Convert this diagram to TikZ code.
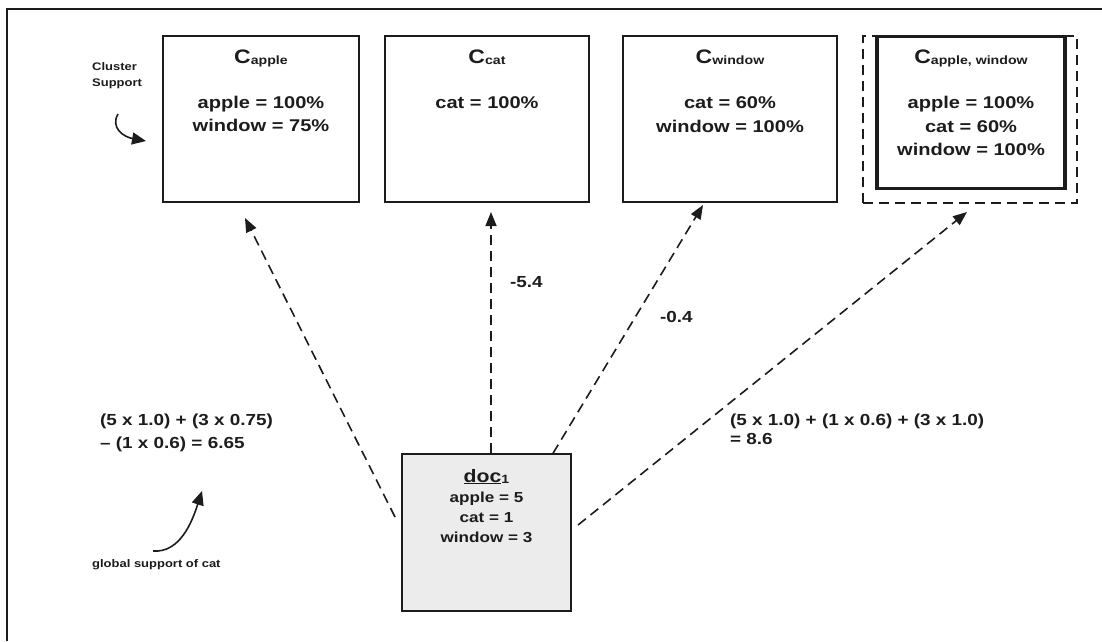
\documentclass[tikz,border=0pt]{standalone}
\usepackage{fontspec}
\setmainfont{Liberation Sans}[FakeStretch=1.18]
\usetikzlibrary{arrows.meta}
\definecolor{ink}{RGB}{28,28,28}
\definecolor{docfill}{RGB}{236,236,236}
% subscript of a cluster name
\newcommand\clsub[1]{\raisebox{-1.5pt}{\fontsize{12}{12}\selectfont #1}}
\tikzset{
  cbox/.style={draw=ink, line width=1.4pt, inner sep=0pt},
  bigbox/.style={draw=ink, line width=3.6pt, inner sep=0pt},
  dashbox/.style={draw=ink, line width=1.4pt, dash pattern=on 10pt off 6pt, inner sep=0pt},
  docbox/.style={draw=ink, line width=1.4pt, fill=docfill, inner sep=0pt},
  ttl/.style={anchor=base, inner sep=0pt, text=ink, font=\fontsize{19.5}{19.5}\selectfont\bfseries},
  body/.style={anchor=base, inner sep=0pt, text=ink, font=\fontsize{17}{17}\selectfont\bfseries},
  dbody/.style={anchor=base, inner sep=0pt, text=ink, font=\fontsize{14.5}{14.5}\selectfont\bfseries},
  lab/.style={anchor=base west, inner sep=0pt, text=ink, font=\fontsize{16}{16}\selectfont\bfseries},
  note/.style={anchor=base west, inner sep=0pt, text=ink, font=\fontsize{11}{11}\selectfont\bfseries},
  conn/.style={draw=ink, line width=1.6pt, dash pattern=on 10pt off 6pt, -{Triangle[length=14pt,width=11pt]}},
  curv/.style={draw=ink, line width=1.6pt, -{Triangle[length=14pt,width=12pt]}},
}
\begin{document}
\begin{tikzpicture}[x=1pt,y=-1pt]
\useasboundingbox (0,0) rectangle (1102,641);
% outer frame (top and left edges)
\draw[draw=ink, line width=1.6pt] (7,641) -- (7,9) -- (1102,9);

% cluster boxes
\node[cbox, minimum width=196pt, minimum height=166pt] (capple) at (261,119) {};
\node[cbox, minimum width=204pt, minimum height=166pt] (ccat) at (487,119) {};
\node[cbox, minimum width=214pt, minimum height=166pt] (cwin) at (730,119) {};
\node[dashbox, minimum width=214pt, minimum height=167pt] (cawout) at (970,119.5) {};
\node[bigbox, minimum width=188pt, minimum height=152pt] (caw) at (971,112.5) {};

\node[ttl] (tapple) at (261,63) {C\clsub{apple}};
\node[body] (apple1) at (261,108) {apple = 100\%};
\node[body] (apple2) at (261,131) {window = 75\%};

\node[ttl] (tcat) at (487,63) {C\clsub{cat}};
\node[body] (cat1) at (487,108) {cat = 100\%};

\node[ttl] (twin) at (730,63) {C\clsub{window}};
\node[body] (win1) at (730,108) {cat = 60\%};
\node[body] (win2) at (730,132) {window = 100\%};

\node[ttl] (taw) at (971,63) {C\clsub{apple, window}};
\node[body] (aw1) at (971,108) {apple = 100\%};
\node[body] (aw2) at (971,132) {cat = 60\%};
\node[body] (aw3) at (971,155) {window = 100\%};

% document box
\node[docbox, minimum width=169pt, minimum height=157pt] (doc) at (486.5,532.5) {};
\node[anchor=base, inner sep=0pt, text=ink, font=\fontsize{18}{18}\selectfont\bfseries] (tdoc) at (486.5,482) {\underline{doc}\clsub{1}};
\node[dbody] (d1) at (486.5,502) {apple = 5};
\node[dbody] (d2) at (486.5,522) {cat = 1};
\node[dbody] (d3) at (486.5,542) {window = 3};

% connectors from the document to each cluster
\coordinate (s1) at (395,517);
\coordinate (t1) at (245,218);
\coordinate (s2) at ([xshift=4.5pt]doc.north);
\coordinate (t2) at (491,212);
\coordinate (s3) at ([xshift=66.5pt]doc.north);
\coordinate (t3) at (703,205);
\coordinate (s4) at (578,525);
\coordinate (t4) at (967,212);
\draw[conn] (s1) -- (t1);
\draw[conn] (s2) -- (t2);
\draw[conn] (s3) -- (t3);
\draw[conn] (s4) -- (t4);

% scores
\node[lab] (v2) at (510,287) {-5.4};
\node[lab] (v3) at (660,322) {-0.4};
\node[lab] (v1a) at (100,425) {(5 x 1.0) + (3 x 0.75)};
\node[lab] (v1b) at (100,448) {– (1 x 0.6) = 6.65};
\node[lab] (v4a) at (730,425) {(5 x 1.0) + (1 x 0.6) + (3 x 1.0)};
\node[lab] (v4b) at (730,444) {= 8.6};

% side notes
\node[note] (cs1) at (92,70) {Cluster};
\node[note] (cs2) at (92,86) {Support};
\coordinate (cs0) at (118,114);
\coordinate (cs9) at (146,141);
\draw[curv] (cs0) .. controls (110,128) and (124,137) .. (cs9);

\node[note] (gs) at (92,567) {global support of cat};
\coordinate (gs0) at (153,551);
\coordinate (gs9) at (202,491);
\draw[curv] (gs0) .. controls (180,553) and (192,522) .. (gs9);
\end{tikzpicture}
\end{document}
